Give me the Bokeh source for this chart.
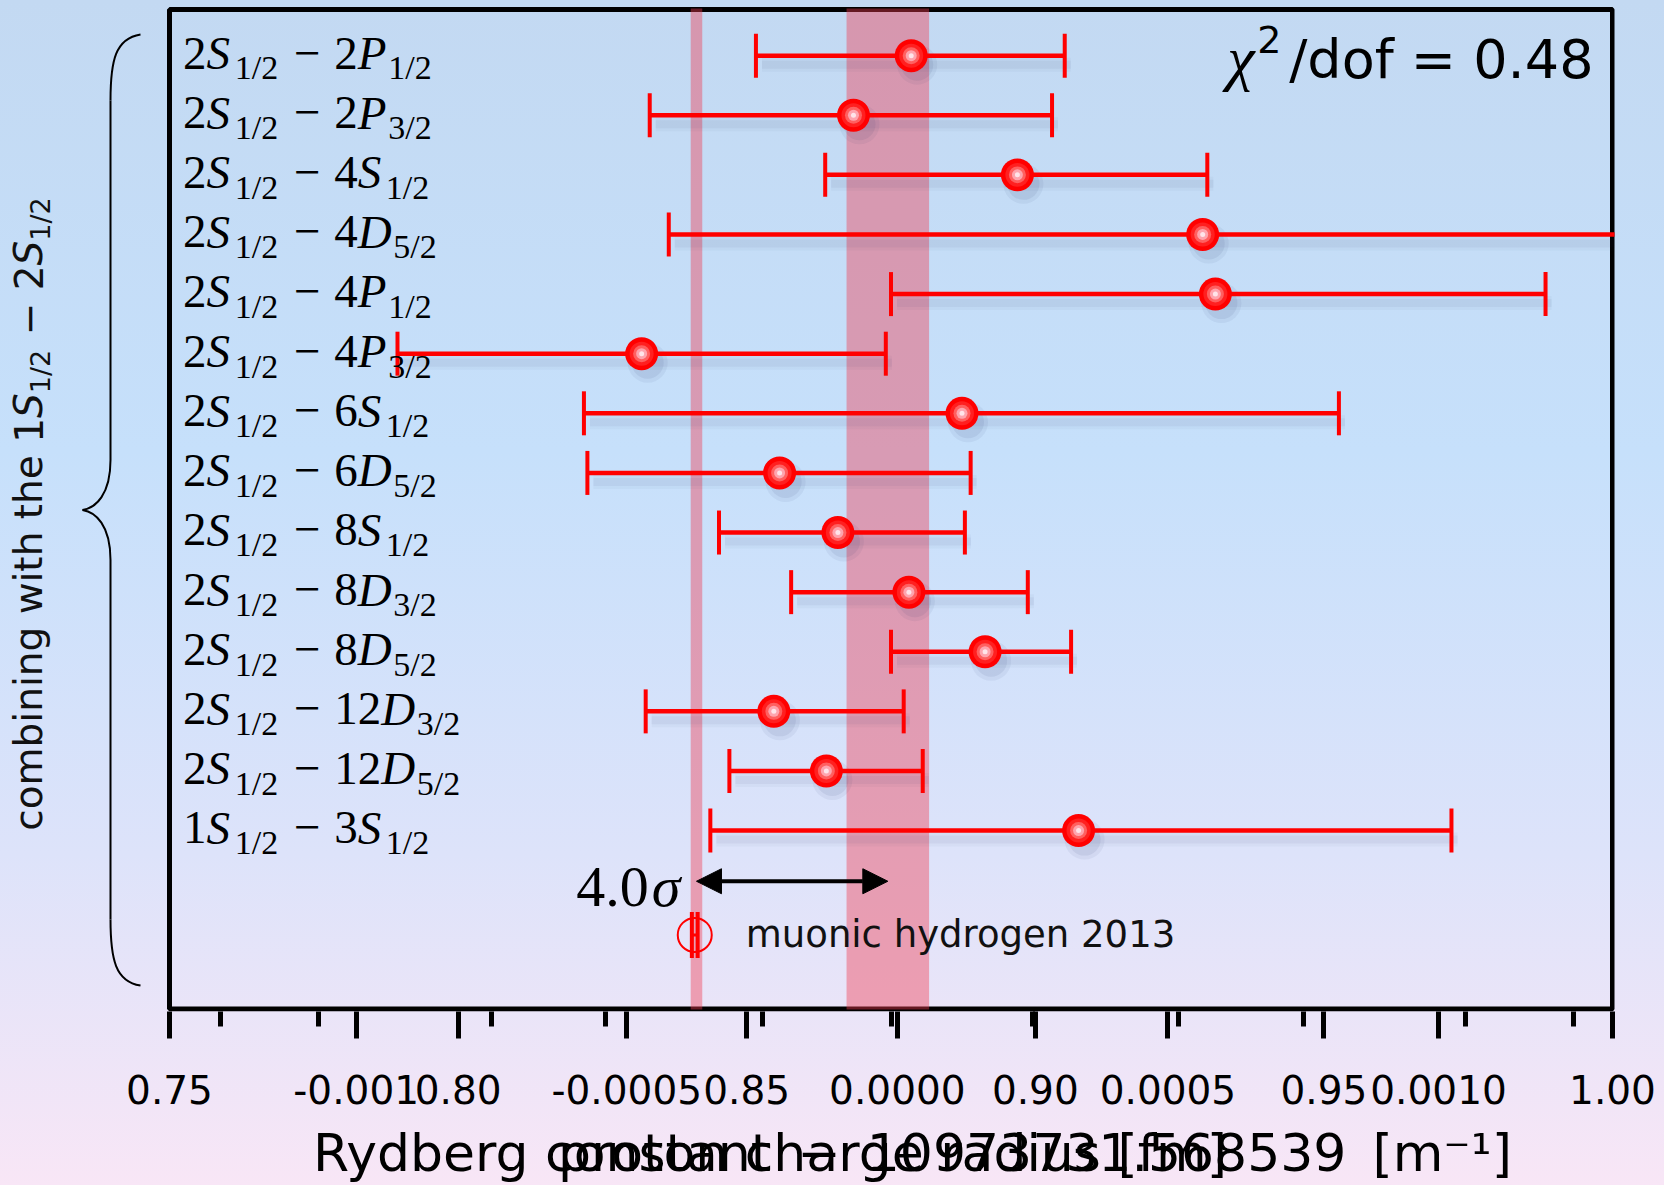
import re
import math
from bokeh.plotting import figure
from bokeh.models import (Range1d, FixedTicker, CustomJSTickFormatter, ColumnDataSource,
                          Arrow, NormalHead, LinearAxis)
from bokeh.core.properties import value
from bokeh.embed import file_html
from bokeh.resources import INLINE

# ---------------- data ----------------
transitions = [
    "2S_{1/2} - 2P_{1/2}", "2S_{1/2} - 2P_{3/2}", "2S_{1/2} - 4S_{1/2}", "2S_{1/2} - 4D_{5/2}",
    "2S_{1/2} - 4P_{1/2}", "2S_{1/2} - 4P_{3/2}", "2S_{1/2} - 6S_{1/2}", "2S_{1/2} - 6D_{5/2}",
    "2S_{1/2} - 8S_{1/2}", "2S_{1/2} - 8D_{3/2}", "2S_{1/2} - 8D_{5/2}", "2S_{1/2} - 12D_{3/2}",
    "2S_{1/2} - 12D_{5/2}", "1S_{1/2} - 3S_{1/2}",
]
radius = [0.8785, 0.8685, 0.8969, 0.9290, 0.9312, 0.8318, 0.8873,
          0.8557, 0.8658, 0.8781, 0.8913, 0.8547, 0.8638, 0.9075]
radius_lo = [0.8516, 0.8332, 0.8636, 0.8365, 0.8750, 0.7895, 0.8218,
             0.8224, 0.8452, 0.8577, 0.8750, 0.8325, 0.8470, 0.8437]
radius_hi = [0.9051, 0.9029, 0.9298, 1.0215, 0.9884, 0.8741, 0.9526,
             0.8888, 0.8878, 0.8987, 0.9062, 0.8772, 0.8805, 0.9721]

muonic_label = "muonic hydrogen 2013"
muonic_radius = 0.8410
muonic_err = 0.0005
muonic_band = [0.8403, 0.8423]
hydrogen_band = [0.8673, 0.8816]
sigma_text = ["4.0", "σ"]
chi2_text = ["χ", "2", "/dof = 0.48"]

ylabel_text = "combining with the"
ylabel_math = "1S_{1/2} - 2S_{1/2}"
xlabel_rydberg = "Rydberg constant\u2002\u2212\u200210973731.568539\u2002[m⁻¹]"
xlabel_radius = "proton charge radius [fm]"

radius_ticks = [0.75, 0.80, 0.85, 0.90, 0.95, 1.00]
radius_tick_labels = ["0.75", "0.80", "0.85", "0.90", "0.95", "1.00"]
rydberg_ticks = [-0.001, -0.0005, 0.0, 0.0005, 0.001]
rydberg_tick_labels = ["-0.001", "-0.0005", "0.0000", "0.0005", "0.0010"]
rydberg_minor_ticks = [-0.00125, -0.00107, -0.00075, -0.00054, -0.00025, -0.00001,
                       0.00025, 0.00052, 0.00075, 0.00105, 0.00125]
RYD_ZERO = 0.8761    # radius-axis position of Rydberg offset 0
RYD_SCALE = 93.76    # radius units per (m^-1) on the shared axis

# ---------------- layout helpers ----------------
W, H = 1664, 1185
FRAME_R, FRAME_B = 1614, 1012
X_PER_PX = 0.25 / 1443.0
X0 = 0.75 - 169 * X_PER_PX
ROW0_PX, ROW_PX = 55.2, 59.67
BASE_FIX = 0.30   # empirical shift so that the requested baseline lands where wanted


def px_x(px):
    return X0 + px * X_PER_PX


def px_y(py):
    return (py - ROW0_PX) / ROW_PX


def ryd_to_r(v):
    return RYD_ZERO + RYD_SCALE * v


def lookup_formatter(vals, labs):
    return CustomJSTickFormatter(args=dict(vals=vals, labs=labs), code="""
        for (let i = 0; i < vals.length; i++) { if (Math.abs(tick - vals[i]) < 1e-9) return labs[i]; }
        return '';
    """)


p = figure(width=W, height=H, output_backend="svg", toolbar_location=None,
           x_range=Range1d(px_x(0), px_x(FRAME_R)),
           y_range=Range1d(px_y(FRAME_B), px_y(0)),
           y_axis_location=None, min_border_left=0, min_border_top=0,
           min_border_right=W - FRAME_R, min_border_bottom=H - FRAME_B)
p.outline_line_color = None
p.background_fill_color = None
p.border_fill_color = None
p.grid.visible = False
p.styles = {"background": "linear-gradient(180deg, #c3d9f2 0%, #c6e0fb 38%, #dde3fa 72%, #f8e6f6 100%)"}

# ---------------- x axis (two scales sharing one line) ----------------
tick_vals = radius_ticks + [ryd_to_r(v) for v in rydberg_ticks]
tick_labs = radius_tick_labels + rydberg_tick_labels
ax = p.xaxis[0]
ax.ticker = FixedTicker(ticks=tick_vals, minor_ticks=[ryd_to_r(v) for v in rydberg_minor_ticks])
ax.formatter = lookup_formatter(tick_vals, tick_labs)
ax.axis_line_color = None
ax.major_tick_line_width = 5
ax.major_tick_out = 27
ax.major_tick_in = 0
ax.minor_tick_line_width = 5
ax.minor_tick_out = 15
ax.minor_tick_in = 0
ax.major_label_text_font = "DejaVu Sans"
ax.major_label_text_font_size = "39px"
ax.major_label_text_color = "black"
ax.major_label_standoff = 36

# both axis titles share one baseline: drawn as labels of a tick-less second axis
title_pos = [px_x(912), px_x(892)]
title_axis = LinearAxis(ticker=FixedTicker(ticks=title_pos, minor_ticks=[]),
                        formatter=lookup_formatter(title_pos, [xlabel_rydberg, xlabel_radius]),
                        axis_line_color=None, major_tick_line_color=None,
                        minor_tick_line_color=None, major_tick_out=0, major_tick_in=0,
                        major_label_text_font="DejaVu Sans", major_label_text_font_size="52px",
                        major_label_text_color="black", major_label_standoff=16)
p.add_layout(title_axis, "below")

# ---------------- frame box ----------------
p.quad(left=radius_ticks[0], right=radius_ticks[-1], top=px_y(9), bottom=px_y(1009.5),
       fill_color=None, line_color="black", line_width=5)

# ---------------- bands ----------------
BAND = "#f03c50"
for lo, hi in [muonic_band, hydrogen_band]:
    p.quad(left=lo, right=hi, top=px_y(8), bottom=px_y(1010), fill_color=BAND,
           fill_alpha=0.42, line_color=None)

# ---------------- error bars ----------------
rows = list(range(len(transitions)))
src = ColumnDataSource(dict(y=rows, r=radius, lo=radius_lo, hi=radius_hi))
RED = "#ff0000"
SHX, SHY = 6 * X_PER_PX, 9 / ROW_PX
shsrc = ColumnDataSource(dict(y=[v + SHY for v in rows], r=[v + SHX for v in radius],
                              lo=[v + SHX for v in radius_lo], hi=[v + SHX for v in radius_hi]))
for w, a in [(14, 0.035), (8, 0.05)]:
    p.segment(x0="lo", x1="hi", y0="y", y1="y", source=shsrc, line_color="#203060",
              line_width=w, line_alpha=a)
for s, a in [(40, 0.06), (32, 0.08)]:
    p.scatter(x="r", y="y", source=shsrc, size=s, fill_color="#203060", fill_alpha=a,
              line_color=None)

p.segment(x0="lo", x1="hi", y0="y", y1="y", source=src, line_color=RED, line_width=4.5)
for col in ["lo", "hi"]:
    p.scatter(x=col, y="y", source=src, marker="dash", angle=math.pi / 2, size=44,
              line_color=RED, line_width=4)
for s, c in [(33, "#ff0000"), (24, "#ff2020"), (17, "#ff6060"), (11, "#ffa4ae"), (5, "#ffe4ea")]:
    p.scatter(x="r", y="y", source=src, size=s, fill_color=c, line_color=None)

# ---------------- muonic hydrogen point ----------------
MU_ROW = 14.75
ARROW_ROW = 13.85
p.segment(x0=[muonic_radius - muonic_err], x1=[muonic_radius + muonic_err],
          y0=[MU_ROW], y1=[MU_ROW], line_color=RED, line_width=3)
p.scatter(x=[muonic_radius - muonic_err, muonic_radius + muonic_err], y=[MU_ROW, MU_ROW],
          marker="dash", angle=math.pi / 2, size=46, line_color=RED, line_width=4)
p.scatter(x=[muonic_radius], y=[MU_ROW], size=34, fill_color=None, line_color=RED,
          line_width=2)
p.text(x=[muonic_radius], y=[MU_ROW], text=[muonic_label], x_offset=51,
       y_offset=11 - BASE_FIX * 37,
       text_font=value("DejaVu Sans"), text_font_size="37px", text_baseline="alphabetic",
       text_align="left", text_color="#111111")

# ---------------- 4.0 sigma arrow ----------------
mu_c = (muonic_band[0] + muonic_band[1]) / 2
h_c = (hydrogen_band[0] + hydrogen_band[1]) / 2
p.add_layout(Arrow(x_start=mu_c, y_start=ARROW_ROW, x_end=h_c, y_end=ARROW_ROW,
                   start=NormalHead(size=25, fill_color="black", line_color="black"),
                   end=NormalHead(size=25, fill_color="black", line_color="black"),
                   line_width=4, line_color="black"))
p.text(x=[muonic_band[0]], y=[ARROW_ROW], text=[sigma_text[0]], x_offset=-42,
       y_offset=23 - BASE_FIX * 58,
       text_font=value("Liberation Serif"), text_font_size="58px", text_baseline="alphabetic",
       text_align="right", text_color="black")
p.text(x=[muonic_band[0]], y=[ARROW_ROW], text=[sigma_text[1]], x_offset=-39,
       y_offset=23 - BASE_FIX * 58,
       text_font=value("Liberation Serif"), text_font_style="italic", text_font_size="58px",
       text_baseline="alphabetic", text_align="left", text_color="black")

# ---------------- chi^2 text ----------------
p.text(x=[px_x(1593)], y=[px_y(75 - BASE_FIX * 54)], text=[chi2_text[2]],
       text_font=value("DejaVu Sans"), text_font_size="54px", text_baseline="alphabetic",
       text_align="right", text_color="black")
p.text(x=[px_x(1281)], y=[px_y(50 - BASE_FIX * 38)], text=[chi2_text[1]],
       text_font=value("DejaVu Sans"), text_font_size="38px", text_baseline="alphabetic",
       text_align="right", text_color="black")
p.text(x=[px_x(1254)], y=[px_y(76 - BASE_FIX * 62)], text=[chi2_text[0]],
       text_font=value("Liberation Serif"), text_font_style="italic", text_font_size="62px",
       text_baseline="alphabetic", text_align="right", text_color="black")


# ---------------- row labels (math-like, composed from pieces) ----------------
def parse_label(s):
    toks = []
    for m in re.finditer(r"(\d+)|([A-Z])|_\{([^}]*)\}|(-)", s):
        if m.group(1):
            toks.append(("roman", m.group(1)))
        elif m.group(2):
            toks.append(("italic", m.group(2)))
        elif m.group(3):
            toks.append(("sub", m.group(3)))
        else:
            toks.append(("op", "\u2212"))
    return toks


F_MAIN, F_SUB = 47.0, 34.0
IT_W = {"S": 0.60, "P": 0.65, "D": 0.76}


def sub_w(t, f):
    return sum(0.278 if ch == "/" else 0.5 for ch in t) * f + 2


pieces = {k: dict(x=[], y=[], text=[], xo=[], yo=[]) for k in ["roman", "italic", "sub", "op"]}
for row, lab in enumerate(transitions):
    cum = 13.5
    for kind, t in parse_label(lab):
        if kind == "roman":
            w, xo, yo = 0.5 * len(t) * F_MAIN, cum, 11.5 - BASE_FIX * F_MAIN
        elif kind == "italic":
            w, xo, yo = IT_W.get(t, 0.65) * F_MAIN, cum, 11.5 - BASE_FIX * F_MAIN
        elif kind == "sub":
            w, xo, yo = sub_w(t, F_SUB), cum, 22.5 - BASE_FIX * F_SUB
        else:
            w = 54.0
            xo, yo = cum + w / 2, 11.5 - BASE_FIX * F_MAIN
        d = pieces[kind]
        d["x"].append(radius_ticks[0]); d["y"].append(row); d["text"].append(t)
        d["xo"].append(xo); d["yo"].append(yo)
        cum += w

styles = {"roman": ("normal", F_MAIN, "left"), "italic": ("italic", F_MAIN, "left"),
          "sub": ("normal", F_SUB, "left"), "op": ("normal", F_MAIN, "center")}
for k, (fs, sz, al) in styles.items():
    p.text(x="x", y="y", text="text", x_offset="xo", y_offset="yo",
           source=ColumnDataSource(pieces[k]), text_font=value("Liberation Serif"),
           text_font_style=fs, text_font_size=f"{sz:.0f}px", text_align=al,
           text_baseline="alphabetic", text_color="black")

# ---------------- rotated y label ----------------
YF, YFS = 39.0, 27.0
yl = {k: dict(x=[], y=[], text=[], xo=[], yo=[]) for k in ["plain", "italic", "sub"]}
anchor_x, anchor_y = px_x(40), px_y(831)
fix_main, fix_sub = -BASE_FIX * YF, -BASE_FIX * YFS
cum = 0.0
yl["plain"]["text"].append(ylabel_text); yl["plain"]["xo"].append(fix_main)
yl["plain"]["yo"].append(-cum)
cum += 9.947 * YF
for kind, t in parse_label(ylabel_math):
    if kind == "roman":
        key, w, xo, off = "plain", 0.636 * len(t) * YF, fix_main, 0
    elif kind == "italic":
        key, w, xo, off = "italic", 0.635 * YF, fix_main, 0
    elif kind == "sub":
        key, w, xo, off = "sub", 1.609 * YFS + 2, 8 + fix_sub, 0
    else:
        key, w, xo, off = "plain", 1.474 * YF, fix_main, 0.318 * YF
    yl[key]["text"].append(t); yl[key]["xo"].append(xo); yl[key]["yo"].append(-(cum + off))
    cum += w
for k, (fs, sz) in {"plain": ("normal", YF), "italic": ("italic", YF),
                    "sub": ("normal", YFS)}.items():
    n = len(yl[k]["text"])
    yl[k]["x"] = [anchor_x] * n
    yl[k]["y"] = [anchor_y] * n
    p.text(x="x", y="y", text="text", x_offset="xo", y_offset="yo",
           source=ColumnDataSource(yl[k]), angle=math.pi / 2, text_font=value("DejaVu Sans"),
           text_font_style=fs, text_font_size=f"{sz:.0f}px", text_align="left",
           text_baseline="alphabetic", text_color="#111111")

# ---------------- curly brace ----------------
BX_END, BX_SPINE, BX_TIP = 140, 110, 82
BY_TOP, BY_TIP, BY_BOT = 34, 510, 986
p.bezier(x0=[px_x(BX_END), px_x(BX_SPINE), px_x(BX_TIP), px_x(BX_SPINE)],
         y0=[px_y(BY_TOP), px_y(BY_TIP - 50), px_y(BY_TIP), px_y(BY_BOT - 66)],
         x1=[px_x(BX_SPINE), px_x(BX_TIP), px_x(BX_SPINE), px_x(BX_END)],
         y1=[px_y(BY_TOP + 66), px_y(BY_TIP), px_y(BY_TIP + 50), px_y(BY_BOT)],
         cx0=[px_x(BX_SPINE + 5), px_x(BX_SPINE), px_x(BX_TIP + 13), px_x(BX_SPINE)],
         cy0=[px_y(BY_TOP + 4), px_y(BY_TIP - 15), px_y(BY_TIP + 2), px_y(BY_BOT - 26)],
         cx1=[px_x(BX_SPINE), px_x(BX_TIP + 13), px_x(BX_SPINE), px_x(BX_SPINE + 5)],
         cy1=[px_y(BY_TOP + 26), px_y(BY_TIP - 2), px_y(BY_TIP + 15), px_y(BY_BOT - 4)],
         line_color="black", line_width=2)
p.segment(x0=[px_x(BX_SPINE)] * 2, x1=[px_x(BX_SPINE)] * 2,
          y0=[px_y(BY_TOP + 66), px_y(BY_TIP + 50)], y1=[px_y(BY_TIP - 50), px_y(BY_BOT - 66)],
          line_color="black", line_width=2)

open("out.html", "w").write(file_html(p, INLINE))
